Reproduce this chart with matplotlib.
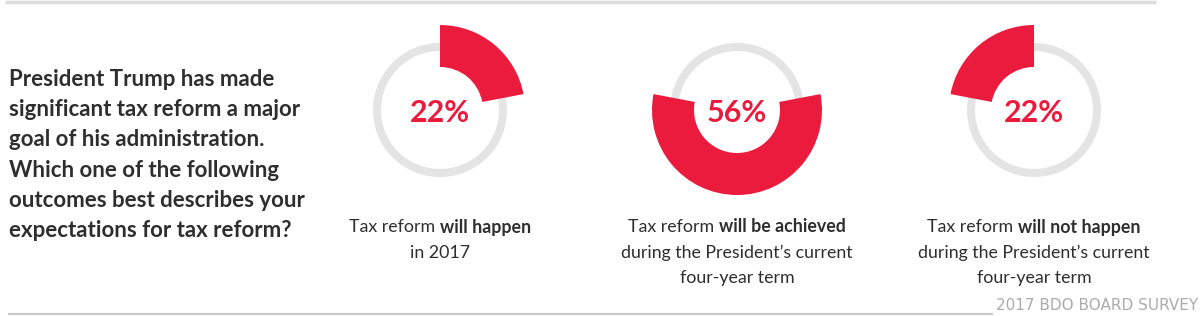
import matplotlib
matplotlib.use("Agg")
import matplotlib.pyplot as plt
from matplotlib.patches import Wedge

# -----------------
# Data
# -----------------

pcts = [22, 56, 22]
pct_labels = ["22%", "56%", "22%"]

# each caption line is a list of (text, weight) pieces
captions = [
    [[("Tax reform", "normal"), ("will happen", "bold")],
     [("in 2017", "normal")]],
    [[("Tax reform", "normal"), ("will be achieved", "bold")],
     [("during the President\u2019s current", "normal")],
     [("four-year term", "normal")]],
    [[("Tax reform", "normal"), ("will not happen", "bold")],
     [("during the President\u2019s current", "normal")],
     [("four-year term", "normal")]],
]

question = ("President Trump has made\n"
            "significant tax reform a major\n"
            "goal of his administration.\n"
            "Which one of the following\n"
            "outcomes best describes your\n"
            "expectations for tax reform?")

source = "2017 BDO BOARD SURVEY"

# -----------------
# Style
# -----------------

RED = "#EA1B3D"
RING = "#E4E4E4"
TEXT = "#2E2E2E"
FONT = "Lato"

centers_x = [440, 737, 1034]
center_y = 110
# where each red arc starts: clockwise from top, centred on bottom, counter-clockwise from top
modes = ["cw", "bottom", "ccw"]

W, H = 1200, 316
fig = plt.figure(figsize=(W / 100, H / 100), dpi=100)
ax = fig.add_axes([0, 0, 1, 1])
ax.set_xlim(0, W)
ax.set_ylim(H, 0)
ax.axis("off")

# frame lines
ax.plot([5, 1156], [1.5, 1.5], color="#DCDCDC", lw=2.5, solid_capstyle="butt")
ax.plot([8, 993], [313.5, 313.5], color="#C9C9C9", lw=1.6, solid_capstyle="butt")

# question on the left
ax.text(9, 155, question, ha="left", va="center", fontsize=16, fontweight="bold",
        family=FONT, color=TEXT, linespacing=1.55)

# -----------------
# Donuts
# -----------------

for cx, p, lab, mode in zip(centers_x, pcts, pct_labels, modes):
    ax.add_patch(Wedge((cx, center_y), 67, 0, 360, width=8, facecolor=RING, edgecolor="none"))
    span = p / 100 * 360
    # axis is inverted, so angles grow clockwise on screen and -90 is the top
    if mode == "cw":
        t1, t2 = -90, -90 + span
    elif mode == "ccw":
        t1, t2 = -90 - span, -90
    else:
        t1, t2 = 90 - span / 2, 90 + span / 2
    ax.add_patch(Wedge((cx, center_y), 85, t1, t2, width=42, facecolor=RED, edgecolor="none"))
    ax.text(cx, center_y + 3, lab, ha="center", va="center", fontsize=22,
            fontweight="bold", family=FONT, color=RED)

# -----------------
# Captions with mixed weights
# -----------------

renderer = fig.canvas.get_renderer()


def text_width(s, weight, size):
    t = ax.text(0, 0, s, fontsize=size, fontweight=weight, family=FONT)
    w = t.get_window_extent(renderer=renderer).width
    t.remove()
    return w


cap_size = 12.8
space_w = text_width("a a", "normal", cap_size) - text_width("aa", "normal", cap_size)
line_y0, line_step = 227, 25.5

for cx, lines in zip(centers_x, captions):
    for i, pieces in enumerate(lines):
        widths = [text_width(s, wt, cap_size) for s, wt in pieces]
        total = sum(widths) + space_w * (len(pieces) - 1)
        x = cx - total / 2
        for (s, wt), w in zip(pieces, widths):
            ax.text(x, line_y0 + i * line_step, s, ha="left", va="center",
                    fontsize=cap_size, fontweight=wt, family=FONT, color=TEXT)
            x += w + space_w

# source note
ax.text(1198, 306, source, ha="right", va="center", fontsize=11,
        family="DejaVu Sans", color="#ABABAB")

fig.savefig("out.png", dpi=100)
